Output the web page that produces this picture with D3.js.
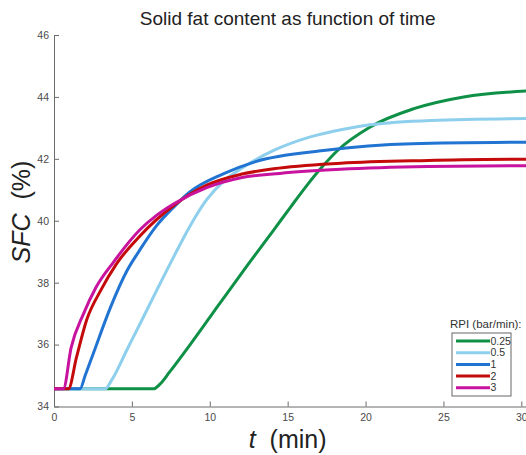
<!DOCTYPE html>
<html>
<head>
<meta charset="utf-8">
<script src="https://d3js.org/d3.v7.min.js"></script>
<style>
  body { margin: 0; background: #fff; }
  svg { font-family: "Liberation Sans", Arial, sans-serif; }
  .axis path, .axis line { stroke: #6b6b6b; }
  .axis text { fill: #4a4a4a; font-size: 10.5px; }
</style>
</head>
<body>
<svg id="chart" width="526" height="455"></svg>
<script>
// RPI (bar/min) series
var rpiLabels = ["0.25", "0.5", "1", "2", "3"];
var rpiColors = ["#0e9047", "#8dcfec", "#2174d1", "#c40a0a", "#c8139e"];

var t025 = [0, 6.38, 6.8, 7.4, 8.74, 10, 11.1, 12.4, 14.1, 15.2, 16.2, 17.3, 18.2, 20.3, 23.1, 26.3, 30.4];
var sfc025 = [34.57, 34.57, 34.72, 35.1, 36.0, 36.88, 37.65, 38.55, 39.7, 40.45, 41.12, 41.79, 42.27, 43.03, 43.62, 44.0, 44.19];

var t05 = [0, 3.28, 3.7, 4.7, 5.5, 6.6, 7.7, 8.7, 9.8, 10.9, 12, 14.1, 16.4, 18.5, 20.3, 24.2, 30.4];
var sfc05 = [34.57, 34.57, 34.85, 35.85, 36.65, 37.76, 38.85, 39.8, 40.68, 41.28, 41.68, 42.27, 42.7, 42.95, 43.1, 43.24, 43.3];

var t1 = [0, 1.67, 2.0, 2.6, 3.6, 4.7, 5.5, 6.6, 7.7, 8.7, 10.9, 13, 17.3, 23, 30.4];
var sfc1 = [34.57, 34.57, 35.0, 35.82, 37.17, 38.4, 39.05, 39.85, 40.45, 40.92, 41.52, 41.92, 42.27, 42.49, 42.54];

var t2 = [0, 0.92, 1.45, 2.1, 3.0, 4.0, 5.5, 7.7, 9.8, 12, 14.1, 18.4, 24, 30.4];
var sfc2 = [34.57, 34.57, 35.6, 36.8, 37.75, 38.6, 39.5, 40.5, 41.15, 41.5, 41.68, 41.86, 41.95, 41.99];

var t3 = [0, 0.6, 1.1, 1.9, 2.7, 3.8, 5.5, 6.6, 7.7, 9.8, 12, 14.5, 18.4, 24, 30.4];
var sfc3 = [34.57, 34.57, 35.9, 37.0, 37.85, 38.65, 39.7, 40.18, 40.55, 41.07, 41.39, 41.53, 41.66, 41.75, 41.78];

var xTicks = [0, 5, 10, 15, 20, 25, 30];
var yTicks = [34, 36, 38, 40, 42, 44, 46];

var times = [t025, t05, t1, t2, t3];
var values = [sfc025, sfc05, sfc1, sfc2, sfc3];

var margin = { top: 35, right: 0, bottom: 48.5, left: 54 };
var width = 526 - margin.left - margin.right;
var height = 455 - margin.top - margin.bottom;

var svg = d3.select("#chart");
var g = svg.append("g").attr("transform", `translate(${margin.left},${margin.top})`);

// the picture is cut just past t = 30
var x = d3.scaleLinear().domain([0, 30.3]).range([0, width]);
var y = d3.scaleLinear().domain([34, 46]).range([height, 0]);

// axes (ticks pointing inward, no box)
g.append("g")
    .attr("class", "axis")
    .attr("transform", `translate(0,${height})`)
    .call(d3.axisBottom(x).tickValues(xTicks).tickSizeInner(-5).tickSizeOuter(0).tickPadding(7));

g.append("g")
    .attr("class", "axis")
    .call(d3.axisLeft(y).tickValues(yTicks).tickSizeInner(-5).tickSizeOuter(0).tickPadding(5));

// lines
var line = d3.line()
    .x(d => x(d[0]))
    .y(d => y(d[1]))
    .curve(d3.curveMonotoneX);

rpiLabels.forEach(function (lab, i) {
    var pts = times[i].map((tt, j) => [tt, values[i][j]]);
    g.append("path")
        .datum(pts)
        .attr("fill", "none")
        .attr("stroke", rpiColors[i])
        .attr("stroke-width", 3)
        .attr("stroke-linejoin", "round")
        .attr("d", line);
});

// title
svg.append("text")
    .attr("x", 54 + x(30) / 2)
    .attr("y", 25)
    .attr("text-anchor", "middle")
    .attr("font-size", 19)
    .attr("fill", "#222")
    .text("Solid fat content as function of time");

// x label
var xl = svg.append("text")
    .attr("x", 54 + x(30) / 2)
    .attr("y", 448)
    .attr("text-anchor", "middle")
    .attr("font-size", 25)
    .attr("fill", "#222");
xl.append("tspan").attr("font-style", "italic").text("t");
xl.append("tspan").attr("xml:space", "preserve").text("  (min)");

// y label
var yl = svg.append("text")
    .attr("transform", "translate(30,212) rotate(-90)")
    .attr("text-anchor", "middle")
    .attr("font-size", 25)
    .attr("fill", "#222");
yl.append("tspan").attr("font-style", "italic").text("SFC");
yl.append("tspan").attr("xml:space", "preserve").text("  (%)");

// legend
var lg = svg.append("g").attr("transform", "translate(452,333)");
lg.append("text")
    .attr("x", -2)
    .attr("y", -5)
    .attr("font-size", 11.5)
    .attr("fill", "#333")
    .text("RPI (bar/min):");
lg.append("rect")
    .attr("width", 59)
    .attr("height", 63)
    .attr("fill", "#fff")
    .attr("stroke", "#666")
    .attr("stroke-width", 1);
rpiLabels.forEach(function (lab, i) {
    var yy = 8 + i * 11.7;
    lg.append("line")
        .attr("x1", 4).attr("x2", 38)
        .attr("y1", yy).attr("y2", yy)
        .attr("stroke", rpiColors[i])
        .attr("stroke-width", 3);
    lg.append("text")
        .attr("x", 38.5)
        .attr("y", yy + 3.5)
        .attr("font-size", 10.5)
        .attr("fill", "#333")
        .text(lab);
});
</script>
</body>
</html>
